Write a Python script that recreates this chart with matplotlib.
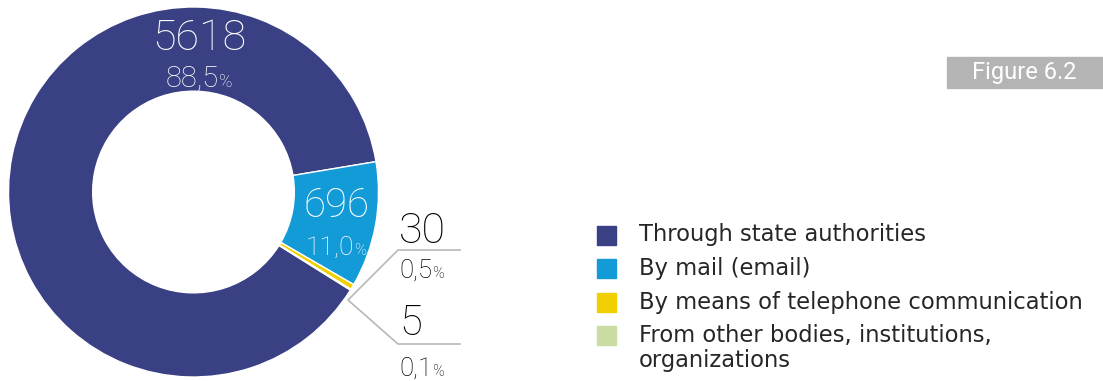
import matplotlib
matplotlib.use('Agg')
import matplotlib.pyplot as plt
from matplotlib.patches import Rectangle

# data
labels = ['Through state authorities', 'By mail (email)',
          'By means of telephone communication',
          'From other bodies, institutions,\norganizations']
counts = [5618, 696, 30, 5]
shares = ['88,5', '11,0', '0,5', '0,1']
colors = ['#394083', '#139bd8', '#f0d000', '#c9dca1']

W, H = 1103, 381
plt.rcParams['font.family'] = ['Roboto', 'DejaVu Sans']
NUMW = 'light'

fig = plt.figure(figsize=(W / 100, H / 100), dpi=100)


def fx(x):
    return x / W


def fy(y):
    return 1 - y / H


# donut: centre (193.5, 192) px, radius 185 px
cx, cy, r = 193.5, 192, 185
ax = fig.add_axes([fx(cx - r), fy(cy + r), 2 * r / W, 2 * r / H])
wedges, _ = ax.pie(counts, colors=colors, startangle=-32, counterclock=False,
                   radius=1, wedgeprops=dict(width=0.455, edgecolor='white', linewidth=1))
ax.set_xlim(-1, 1)
ax.set_ylim(-1, 1)
ax.set_aspect('equal')
ax.axis('off')

renderer = fig.canvas.get_renderer()


def value_label(x, y_num, y_pct, num, pct, size_num, size_pct, color, ha='center'):
    # number on top, percentage below with a small % sign
    fig.text(fx(x), fy(y_num), str(num), ha=ha, va='baseline', fontsize=size_num,
             color=color, fontweight=NUMW)
    t2 = fig.text(fx(x), fy(y_pct), pct, ha=ha, va='baseline', fontsize=size_pct,
                  color=color, fontweight=NUMW)
    psize = size_pct * 0.62
    if ha == 'center':
        sym = fig.text(0, 0, '%', fontsize=psize, fontweight=NUMW)
        sw = sym.get_window_extent(renderer).width
        sym.remove()
        t2.set_x(fx(x - sw / 2))
    bb = t2.get_window_extent(renderer)
    fig.text(bb.x1 / W, fy(y_pct), '%', ha='left', va='baseline',
             fontsize=psize, color=color, fontweight=NUMW)


value_label(199, 50, 87, counts[0], shares[0], 31, 21, 'white')
value_label(336, 217, 255, counts[1], shares[1], 29, 19, 'white')
value_label(399, 243, 278, counts[2], shares[2], 31, 18.5, 'black', ha='left')
value_label(399, 335, 376, counts[3], shares[3], 30, 18.5, 'black', ha='left')

# leader lines
lc = '#b8b8b8'
fig.add_artist(plt.Line2D([fx(460), fx(398), fx(348), fx(398), fx(460)],
                          [fy(250), fy(250), fy(300), fy(344), fy(344)],
                          color=lc, lw=1.2))

# legend
ys = [235, 268, 302, 335]
for lab, col, y in zip(labels, colors, ys):
    fig.add_artist(Rectangle((fx(597), fy(y + 9.5)), 19 / W, 19 / H, color=col,
                             transform=fig.transFigure))
    multi = '\n' in lab
    fig.text(fx(639), fy(y - 11) if multi else fy(y), lab, ha='left',
             va='top' if multi else 'center', fontsize=16.3, color='#262626',
             linespacing=1.12, family=['DejaVu Sans'])

# figure tag
fig.add_artist(Rectangle((fx(947), fy(88)), (W - 947) / W, 31 / H, color='#b4b4b4',
                         transform=fig.transFigure))
fig.text(fx(1024), fy(73), 'Figure 6.2', ha='center', va='center', fontsize=17,
         color='white')

fig.savefig('out.png', dpi=100)
